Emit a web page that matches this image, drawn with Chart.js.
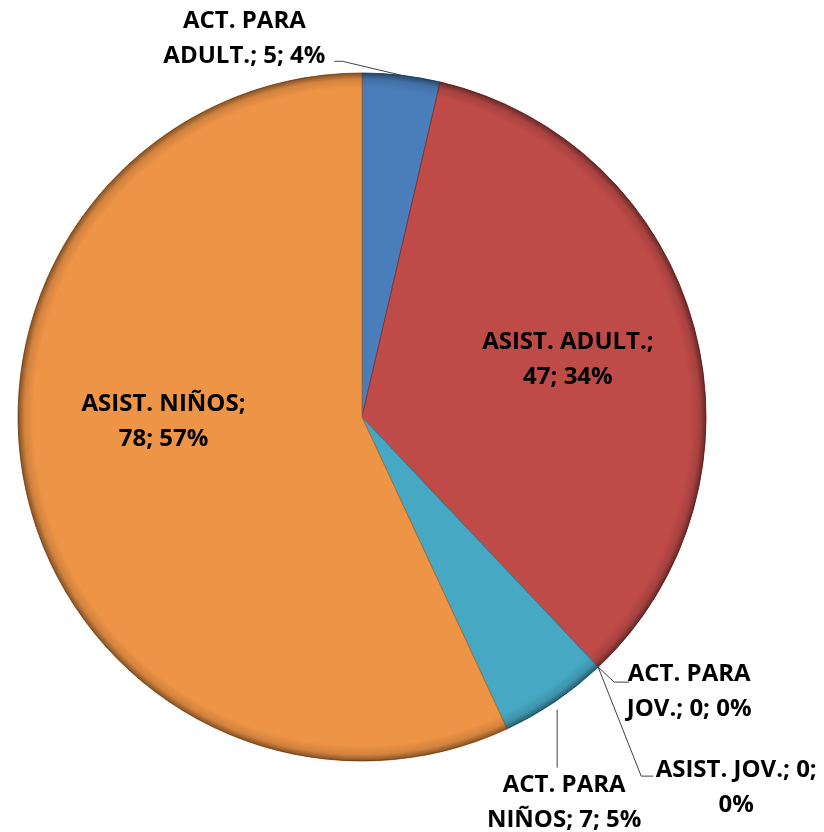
<!DOCTYPE html>
<html>
<head>
<meta charset="utf-8">
<script src="https://cdn.jsdelivr.net/npm/chart.js@4/dist/chart.umd.min.js"></script>
<style>
  html, body { margin: 0; padding: 0; background: #fff; }
  #wrap { width: 824px; height: 832px; }
</style>
</head>
<body>
<div id="wrap"><canvas id="c" width="824" height="832"></canvas></div>
<script>
// ---- data ----
const categories = ['ACT. PARA ADULT.', 'ASIST. ADULT.', 'ACT. PARA JOV.', 'ASIST. JOV.', 'ACT. PARA NIÑOS', 'ASIST. NIÑOS'];
const values = [5, 47, 0, 0, 7, 78];
const firstLineWords = [2, 2, 2, 3, 2, 2];

// ---- style ----
const colors = ['#4A7EBB', '#BE4B48', '#8064A2', '#9BBB59', '#47A8C4', '#EE9446'];
const borders = ['#2f5b8f', '#8a3230', '#5a4478', '#6f8a3c', '#2d7d95', '#b26a2c'];

// label layout: anchor radius fraction, block offset from anchor, leader path (relative to anchor)
const labelLayout = [
  { anchorR: 1.0, dx: -157, dy: -37, leader: [[0,0],[-59,-14],[-67,-14]] },
  { anchorR: 0.62, dx: 0, dy: -2, leader: null },
  { anchorR: 1.0, dx: 91, dy: 25, leader: [[0,0],[16,15],[31,15]] },
  { anchorR: 1.0, dx: 138, dy: 121, leader: [[0,0],[43,109],[55,109]] },
  { anchorR: 1.0, dx: 9, dy: 101, leader: [[2,8],[2,66]] },
  { anchorR: 0.6, dx: 3, dy: -40, leader: null }
];
const FONT = 'bold 24px "Open Sans", Lato, sans-serif';
const LINE_H = 35;

const total = values.reduce((a, b) => a + b, 0);

function labelLines(i) {
  const pct = Math.round(values[i] / total * 100);
  const words = (categories[i] + '; ' + values[i] + '; ' + pct + '%').split(' ');
  const n = firstLineWords[i];
  return [words.slice(0, n).join(' '), words.slice(n).join(' ')];
}

const bevelPlugin = {
  id: 'bevel',
  afterDatasetsDraw(chart) {
    const meta = chart.getDatasetMeta(0);
    const ctx = chart.ctx;
    meta.data.forEach((arc, i) => {
      if (!values[i]) return;
      const p = arc.getProps(['x', 'y', 'startAngle', 'endAngle', 'outerRadius']);
      ctx.save();
      ctx.beginPath();
      ctx.moveTo(p.x, p.y);
      ctx.arc(p.x, p.y, p.outerRadius, p.startAngle, p.endAngle);
      ctx.closePath();
      ctx.clip();
      const g = ctx.createRadialGradient(p.x, p.y, p.outerRadius * 0.955, p.x, p.y, p.outerRadius);
      g.addColorStop(0, 'rgba(0,0,0,0)');
      g.addColorStop(0.6, 'rgba(0,0,0,0.12)');
      g.addColorStop(1, 'rgba(0,0,0,0.45)');
      ctx.fillStyle = g;
      ctx.fillRect(p.x - p.outerRadius, p.y - p.outerRadius, p.outerRadius * 2, p.outerRadius * 2);
      ctx.restore();
    });
  }
};

const labelPlugin = {
  id: 'pieLabels',
  afterDraw(chart) {
    const meta = chart.getDatasetMeta(0);
    const ctx = chart.ctx;
    ctx.save();
    ctx.font = FONT;
    ctx.textAlign = 'center';
    ctx.textBaseline = 'middle';
    meta.data.forEach((arc, i) => {
      const L = labelLayout[i];
      const p = arc.getProps(['x', 'y', 'startAngle', 'endAngle', 'outerRadius']);
      const a = (p.startAngle + p.endAngle) / 2;
      const ax = p.x + Math.cos(a) * p.outerRadius * L.anchorR;
      const ay = p.y + Math.sin(a) * p.outerRadius * L.anchorR;
      if (L.leader) {
        ctx.beginPath();
        ctx.strokeStyle = '#404040';
        ctx.lineWidth = 1;
        L.leader.forEach(([lx, ly], k) => {
          if (k === 0) ctx.moveTo(ax + lx, ay + ly); else ctx.lineTo(ax + lx, ay + ly);
        });
        ctx.stroke();
      }
      const lines = labelLines(i);
      const cx = ax + L.dx, cy = ay + L.dy;
      ctx.fillStyle = '#000';
      lines.forEach((t, k) => {
        ctx.fillText(t, cx, cy + (k - (lines.length - 1) / 2) * LINE_H);
      });
    });
    ctx.restore();
  }
};

new Chart(document.getElementById('c'), {
  type: 'pie',
  data: {
    labels: categories,
    datasets: [{
      data: values,
      backgroundColor: colors,
      borderColor: borders,
      borderWidth: 1,
      radius: 344
    }]
  },
  options: {
    responsive: false,
    animation: false,
    layout: { padding: { left: 18, right: 118, top: 73, bottom: 71 } },
    plugins: {
      legend: { display: false },
      tooltip: { enabled: false }
    }
  },
  plugins: [bevelPlugin, labelPlugin]
});
</script>
</body>
</html>
